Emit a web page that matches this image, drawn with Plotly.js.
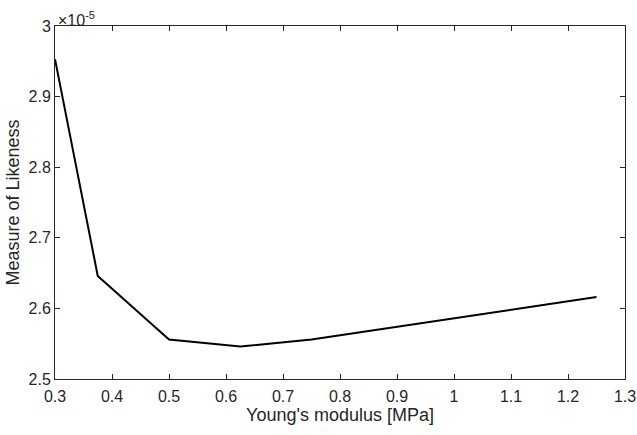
<!DOCTYPE html>
<html>
<head>
<meta charset="utf-8">
<script src="https://cdn.plot.ly/plotly-3.0.1.min.js"></script>
<style>html,body{margin:0;padding:0;background:#fff;}#chart{width:637px;height:435px;}</style>
</head>
<body>
<div id="chart"></div>
<script>
// Young's modulus [MPa]
var youngsModulus = [0.3, 0.375, 0.5, 0.625, 0.75, 1.25];
// Measure of likeness, in units of 1e-5
var likeness = [2.953, 2.646, 2.556, 2.546, 2.556, 2.616];
var xTicks = [0.3, 0.4, 0.5, 0.6, 0.7, 0.8, 0.9, 1, 1.1, 1.2, 1.3];
var xTickText = ['0.3','0.4','0.5','0.6','0.7','0.8','0.9','1','1.1','1.2','1.3'];
var yTicks = [2.5, 2.6, 2.7, 2.8, 2.9, 3];
var yTickText = ['2.5','2.6','2.7','2.8','2.9','3'];

var tickFont = {family: 'Liberation Sans, Arial, sans-serif', size: 16, color: '#262626'};
var titleFont = {family: 'Liberation Sans, Arial, sans-serif', size: 18, color: '#262626'};
var axisCommon = {
  showgrid: false, zeroline: false, showline: true, linecolor: '#262626', linewidth: 1,
  mirror: 'ticks', ticks: 'inside', ticklen: 5, tickcolor: '#262626', tickwidth: 1,
  tickfont: tickFont, tickmode: 'array'
};
var layout = {
  width: 637, height: 435,
  margin: {l: 55, r: 12, t: 26, b: 56},
  paper_bgcolor: '#fff', plot_bgcolor: '#fff',
  showlegend: false,
  font: tickFont,
  xaxis: Object.assign({}, axisCommon, {
    range: [0.3, 1.3], tickvals: xTicks, ticktext: xTickText, ticklabelstandoff: 3,
    title: {text: "Young's modulus [MPa]", font: titleFont, standoff: 2}
  }),
  yaxis: Object.assign({}, axisCommon, {
    range: [2.5, 3], tickvals: yTicks, ticktext: yTickText,
    title: {text: 'Measure of Likeness', font: titleFont, standoff: 4}
  }),
  annotations: [{
    xref: 'paper', yref: 'paper', x: 0, y: 1, xanchor: 'left', yanchor: 'bottom',
    text: '\u00d710<sup>-5</sup>', showarrow: false, font: tickFont, yshift: -5, xshift: 1
  }]
};
var trace = {
  x: youngsModulus, y: likeness, type: 'scatter', mode: 'lines',
  line: {color: '#000', width: 2}, hoverinfo: 'none'
};
Plotly.newPlot('chart', [trace], layout, {staticPlot: true});
</script>
</body>
</html>
